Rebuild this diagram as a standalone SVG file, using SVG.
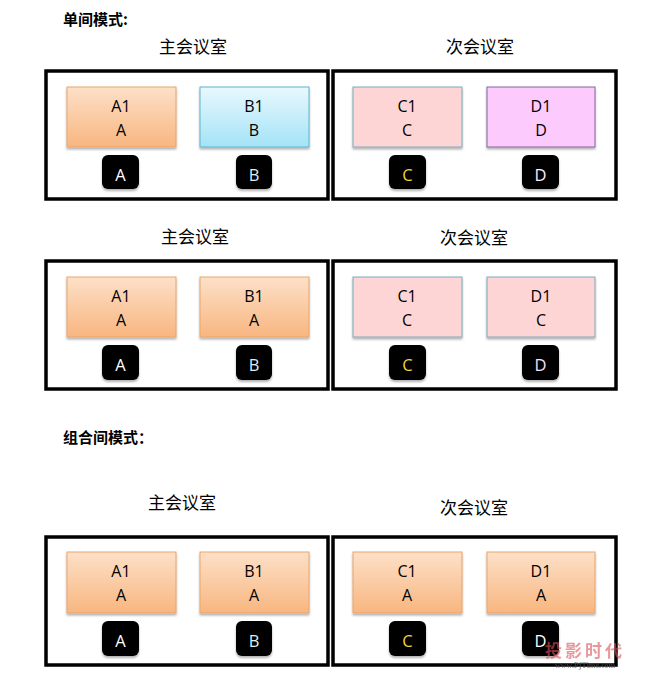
<svg xmlns="http://www.w3.org/2000/svg" width="650" height="688" viewBox="0 0 650 688">
<defs>
<linearGradient id="gOr" x1="0" y1="0" x2="0" y2="1"><stop offset="0" stop-color="#fde0c8"/><stop offset="1" stop-color="#f8b680"/></linearGradient>
<linearGradient id="gBl" x1="0" y1="0" x2="0" y2="1"><stop offset="0" stop-color="#e8f8fd"/><stop offset="1" stop-color="#a4e3f7"/></linearGradient>
<filter id="sh" x="-10%" y="-10%" width="120%" height="130%"><feDropShadow dx="0" dy="2" stdDeviation="1.2" flood-color="#000" flood-opacity="0.3"/></filter>
<style>
.room{fill:none;stroke:#000;stroke-width:3.5}
.or{fill:url(#gOr);stroke:#e9a56a;stroke-width:1}
.bl{fill:url(#gBl);stroke:#5fb4cc;stroke-width:1}
.pk{fill:#fdd5d5;stroke:#7fa9bb;stroke-width:1}
.mg{fill:#fdcafd;stroke:#7f6a9a;stroke-width:1}
.key{fill:#000;filter:url(#sh)}
.nd{filter:url(#sh)}
.lbl{font-family:"Open Sans","Liberation Sans",sans-serif;font-size:16px;fill:#000;text-anchor:middle}
.kl{font-family:"Open Sans","Liberation Sans",sans-serif;font-size:16.5px;text-anchor:middle}
.ttl{font-family:"Noto Sans CJK SC",sans-serif;font-size:17px;fill:#000;text-anchor:middle}
.hd{font-family:"Noto Sans CJK SC",sans-serif;font-size:15px;font-weight:bold;fill:#000}
</style>
</defs>
<rect width="650" height="688" fill="#fff"/>

<text class="hd" x="63" y="25">单间模式:</text>
<text class="hd" x="63" y="443">组合间模式：</text>

<!-- Section 1 -->
<g id="sec1">
<text class="ttl" x="193" y="53">主会议室</text>
<text class="ttl" x="480" y="53">次会议室</text>
<rect class="room" x="46" y="71" width="282" height="128"/>
<rect class="room" x="333" y="71" width="283" height="128"/>
<g id="s1A1"><rect class="or nd" x="67" y="87" width="109" height="60"/><text class="lbl" x="121" y="112">A1</text><text class="lbl" x="121" y="136">A</text></g>
<g id="s1B1"><rect class="bl nd" x="200" y="87" width="109" height="60"/><text class="lbl" x="254" y="112">B1</text><text class="lbl" x="254" y="136">B</text></g>
<g id="s1C1"><rect class="pk nd" x="353" y="87" width="109" height="60"/><text class="lbl" x="407" y="112">C1</text><text class="lbl" x="407" y="136">C</text></g>
<g id="s1D1"><rect class="mg nd" x="487" y="87" width="108" height="60"/><text class="lbl" x="541" y="112">D1</text><text class="lbl" x="541" y="136">D</text></g>
<g id="s1kA"><rect class="key" x="102" y="155" width="37" height="34" rx="6"/><text class="kl" x="120.5" y="181" fill="#fff">A</text></g>
<g id="s1kB"><rect class="key" x="236" y="155" width="36" height="34" rx="6"/><text class="kl" x="254" y="181" fill="#d8eef8">B</text></g>
<g id="s1kC"><rect class="key" x="389" y="155" width="37" height="34" rx="6"/><text class="kl" x="407.5" y="181" fill="#f2d23c">C</text></g>
<g id="s1kD"><rect class="key" x="522" y="155" width="37" height="34" rx="6"/><text class="kl" x="540.5" y="181" fill="#fbeefb">D</text></g>
</g>

<!-- Section 2 -->
<g id="sec2">
<text class="ttl" x="195" y="243">主会议室</text>
<text class="ttl" x="474" y="244">次会议室</text>
<rect class="room" x="46" y="261" width="282" height="128"/>
<rect class="room" x="333" y="261" width="283" height="128"/>
<g id="s2A1"><rect class="or nd" x="67" y="277" width="109" height="60"/><text class="lbl" x="121" y="302">A1</text><text class="lbl" x="121" y="326">A</text></g>
<g id="s2B1"><rect class="or nd" x="200" y="277" width="109" height="60"/><text class="lbl" x="254" y="302">B1</text><text class="lbl" x="254" y="326">A</text></g>
<g id="s2C1"><rect class="pk nd" x="353" y="277" width="109" height="60"/><text class="lbl" x="407" y="302">C1</text><text class="lbl" x="407" y="326">C</text></g>
<g id="s2D1"><rect class="pk nd" x="487" y="277" width="108" height="60"/><text class="lbl" x="541" y="302">D1</text><text class="lbl" x="541" y="326">C</text></g>
<g id="s2kA"><rect class="key" x="102" y="345" width="37" height="35" rx="6"/><text class="kl" x="120.5" y="371" fill="#fff">A</text></g>
<g id="s2kB"><rect class="key" x="236" y="345" width="36" height="35" rx="6"/><text class="kl" x="254" y="371" fill="#d8eef8">B</text></g>
<g id="s2kC"><rect class="key" x="389" y="345" width="37" height="35" rx="6"/><text class="kl" x="407.5" y="371" fill="#f2d23c">C</text></g>
<g id="s2kD"><rect class="key" x="522" y="345" width="37" height="35" rx="6"/><text class="kl" x="540.5" y="371" fill="#f8e0f8">D</text></g>
</g>

<!-- Section 3 -->
<g id="sec3">
<text class="ttl" x="182" y="509">主会议室</text>
<text class="ttl" x="474" y="514">次会议室</text>
<rect class="room" x="46" y="537" width="282" height="128"/>
<rect class="room" x="333" y="537" width="283" height="128"/>
<g id="s3A1"><rect class="or nd" x="67" y="552" width="109" height="61"/><text class="lbl" x="121" y="577">A1</text><text class="lbl" x="121" y="601">A</text></g>
<g id="s3B1"><rect class="or nd" x="200" y="552" width="109" height="61"/><text class="lbl" x="254" y="577">B1</text><text class="lbl" x="254" y="601">A</text></g>
<g id="s3C1"><rect class="or nd" x="353" y="552" width="109" height="61"/><text class="lbl" x="407" y="577">C1</text><text class="lbl" x="407" y="601">A</text></g>
<g id="s3D1"><rect class="or nd" x="487" y="552" width="108" height="61"/><text class="lbl" x="541" y="577">D1</text><text class="lbl" x="541" y="601">A</text></g>
<g id="s3kA"><rect class="key" x="102" y="621" width="37" height="35" rx="6"/><text class="kl" x="120.5" y="647" fill="#fff">A</text></g>
<g id="s3kB"><rect class="key" x="236" y="621" width="36" height="35" rx="6"/><text class="kl" x="254" y="647" fill="#d8eef8">B</text></g>
<g id="s3kC"><rect class="key" x="389" y="621" width="37" height="35" rx="6"/><text class="kl" x="407.5" y="647" fill="#f2d23c">C</text></g>
<g id="s3kD"><rect class="key" x="522" y="621" width="37" height="35" rx="6"/><text class="kl" x="540.5" y="647" fill="#fff">D</text></g>
</g>

<!-- watermark -->
<g id="watermark" opacity="0.6">
<text x="545" y="657" font-family="Noto Sans CJK SC,sans-serif" font-size="17" font-weight="bold" fill="#d9535a" letter-spacing="3">投影时代</text>
<text x="555" y="668" font-family="Liberation Serif,serif" font-size="8" font-weight="bold" fill="#555">www.PjTime.com</text>
</g>
</svg>
